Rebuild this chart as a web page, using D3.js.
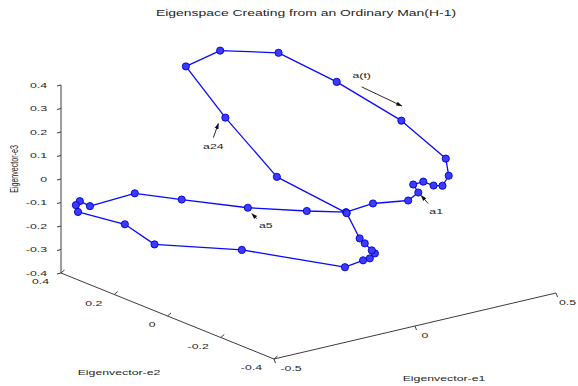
<!DOCTYPE html>
<html>
<head>
<meta charset="utf-8">
<script src="https://cdn.jsdelivr.net/npm/d3@7"></script>
<style>
  html, body { margin: 0; padding: 0; background: #fff; }
  svg { display: block; }
</style>
</head>
<body>
<svg id="chart" width="578" height="386"></svg>
<script>
// Trajectory of the gait sequence in the first three eigenvectors (a1 ... a36)
const e1 = [0.259, 0.153, 0.086, -0.006, -0.149, -0.308, -0.380, -0.454, -0.471, -0.485,
            -0.487, -0.368, -0.310, -0.142, 0.082, 0.118, 0.123, 0.141, 0.130, 0.105,
            0.087, 0.060, -0.065, -0.106, -0.076, 0.055, 0.243, 0.421, 0.471, 0.468,
            0.450, 0.409, 0.368, 0.322, 0.277, 0.295];
const e2 = [-0.10, -0.08, -0.05, 0.00, 0.07, 0.15, 0.25, 0.34, 0.36, 0.36,
            0.35, 0.30, 0.25, 0.10, -0.05, -0.08, -0.10, -0.10, -0.10, -0.10,
            -0.10, -0.08, 0.05, 0.20, 0.38, 0.39, 0.37, 0.34, 0.15, -0.02,
            -0.05, -0.07, -0.08, -0.09, -0.10, -0.10];
const e3 = [-0.076, -0.068, -0.100, -0.092, -0.070, -0.027, -0.026, -0.101, -0.084, -0.097,
            -0.121, -0.184, -0.263, -0.265, -0.333, -0.300, -0.284, -0.268, -0.252, -0.215,
            -0.189, -0.083, 0.047, 0.242, 0.369, 0.395, 0.342, 0.182, 0.090, 0.007,
            -0.047, -0.069, -0.052, -0.018, -0.013, -0.052];

const e1Ticks = [-0.5, 0, 0.5];
const e2Ticks = [0.4, 0.2, 0, -0.2, -0.4];
const e3Ticks = [0.4, 0.3, 0.2, 0.1, 0, -0.1, -0.2, -0.3, -0.4];
const e1TickLabels = ["-0.5", "0", "0.5"];
const e2TickLabels = ["0.4", "0.2", "0", "-0.2", "-0.4"];
const e3TickLabels = ["0.4", "0.3", "0.2", "0.1", "0", "-0.1", "-0.2", "-0.3", "-0.4"];

const titleText = "Eigenspace Creating from an Ordinary Man(H-1)";
const axisNames = ["Eigenvector-e1", "Eigenvector-e2", "Eigenvector-e3"];

// Callouts: which sample they name, and where the arrow and text sit relative to it
const callouts = [
  { text: "a1",   index: 0,  tip: [13, -5], tail: [20, 3],  label: [28, 11] },
  { text: "a5",   index: 4,  tip: [4, 6],   tail: [9, 11],  label: [18, 18] },
  { text: "a24",  index: 23, tip: [-7, 6],  tail: [-12, 20], label: [-12, 29] },
  { text: "a(t)", index: 27, tip: [65, 24], tail: [25, 5],  label: [25, -6] }
];

// ---- 3-D box projection (fixed oblique view) ----
const u = d3.scaleLinear().domain([-0.5, 0.5]).range([0, 1]);
const v = d3.scaleLinear().domain([0.4, -0.4]).range([0, 1]);
const w = d3.scaleLinear().domain([-0.4, 0.4]).range([0, 1]);
const O  = [61, 273];      // screen position of (e1=-0.5, e2=0.4, e3=-0.4)
const A1 = [282, -66];     // full e1 span on screen
const A2 = [213, 86];      // full e2 span on screen (0.4 -> -0.4)
const A3 = [0, -188];      // full e3 span on screen
function proj(a, b, c) {
  const U = u(a), V = v(b), W = w(c);
  return [O[0] + A1[0] * U + A2[0] * V + A3[0] * W,
          O[1] + A1[1] * U + A2[1] * V + A3[1] * W];
}

const W_PX = 578;
const svg = d3.select("#chart");
const FONT = "'Liberation Sans', Arial, Helvetica, sans-serif";
const SX = 1.62;           // horizontal glyph stretch of the figure text
const INK = "#1e1e1e";
const AXIS = "#3c3c3c";

function label(x, y, str, opts = {}) {
  const size = opts.size || 7.6;
  const g = svg.append("g")
    .attr("transform", `translate(${x},${y}) scale(${SX},1)` + (opts.rotate ? " rotate(-90)" : ""));
  g.append("text")
    .attr("text-anchor", opts.anchor || "middle")
    .attr("dominant-baseline", "central")
    .attr("font-family", FONT)
    .attr("font-size", size)
    .attr("fill", INK)
    .text(str);
  // keep the text inside the figure
  const b = g.node().getBoundingClientRect();
  if (b.right > W_PX - 1.5) {
    const nx = x - (b.right - (W_PX - 1.5));
    g.attr("transform", `translate(${nx},${y}) scale(${SX},1)` + (opts.rotate ? " rotate(-90)" : ""));
  }
  return g;
}

// Title
label(306, 13.5, titleText, { size: 8.6 });

// ---- axes ----
const axes = svg.append("g").attr("stroke", AXIS).attr("stroke-width", 1).attr("fill", "none");

// e3 (vertical) axis at e1=-0.5, e2=0.4
const z0 = proj(-0.5, 0.4, -0.4), z1 = proj(-0.5, 0.4, 0.4);
axes.append("line").attr("x1", z0[0]).attr("y1", z0[1]).attr("x2", z1[0]).attr("y2", z1[1]);
e3Ticks.forEach((t, i) => {
  const p = proj(-0.5, 0.4, t);
  axes.append("line").attr("x1", p[0] - 4).attr("y1", p[1] + 1).attr("x2", p[0]).attr("y2", p[1]);
  label(p[0] - 14, p[1], e3TickLabels[i], { anchor: "end" });
});

// e2 axis along e1=-0.5, e3=-0.4
const y0 = proj(-0.5, 0.4, -0.4), y1 = proj(-0.5, -0.4, -0.4);
axes.append("line").attr("x1", y0[0]).attr("y1", y0[1]).attr("x2", y1[0]).attr("y2", y1[1]);
e2Ticks.forEach((t, i) => {
  const p = proj(-0.5, t, -0.4);
  axes.append("line").attr("x1", p[0]).attr("y1", p[1]).attr("x2", p[0] + 3.5).attr("y2", p[1] - 3);
  label(p[0] - 12, p[1] + 8.5, e2TickLabels[i], { anchor: "end" });
});

// e1 axis along e2=-0.4, e3=-0.4
const x0 = proj(-0.5, -0.4, -0.4), x1 = proj(0.5, -0.4, -0.4);
axes.append("line").attr("x1", x0[0]).attr("y1", x0[1]).attr("x2", x1[0]).attr("y2", x1[1]);
e1Ticks.forEach((t, i) => {
  const p = proj(t, -0.4, -0.4);
  axes.append("line").attr("x1", p[0]).attr("y1", p[1]).attr("x2", p[0] + 1.5).attr("y2", p[1] + 4);
  label(p[0] + 6.5, p[1] + 9, e1TickLabels[i], { anchor: "start" });
});

// axis titles
label(444, 378, axisNames[0]);
label(119, 372, axisNames[1]);
label(14, 169, axisNames[2], { rotate: true, size: 7.1 });

// ---- trajectory ----
const pts = e1.map((d, i) => proj(e1[i], e2[i], e3[i]));
const line = d3.line();
svg.append("path")
  .attr("d", line(pts.concat([pts[0]])))
  .attr("fill", "none")
  .attr("stroke", "#0a0aff")
  .attr("stroke-width", 1.3)
  .attr("stroke-linejoin", "round");

svg.append("g").selectAll("circle").data(pts).join("circle")
  .attr("cx", d => d[0]).attr("cy", d => d[1]).attr("r", 3.6)
  .attr("fill", "#3b3bff").attr("stroke", "#0000c8").attr("stroke-width", 0.9);

// ---- callouts ----
const defs = svg.append("defs");
defs.append("marker").attr("id", "head")
  .attr("viewBox", "0 0 10 10").attr("refX", 9).attr("refY", 5)
  .attr("markerWidth", 6).attr("markerHeight", 6).attr("orient", "auto-start-reverse")
  .attr("markerUnits", "userSpaceOnUse")
  .append("path").attr("d", "M0,1.5 L10,5 L0,8.5 Z").attr("fill", "#111");

callouts.forEach(c => {
  const p = pts[c.index];
  svg.append("line")
    .attr("x1", p[0] + c.tail[0]).attr("y1", p[1] + c.tail[1])
    .attr("x2", p[0] + c.tip[0]).attr("y2", p[1] + c.tip[1])
    .attr("stroke", "#111").attr("stroke-width", 0.9)
    .attr("marker-end", "url(#head)");
  label(p[0] + c.label[0], p[1] + c.label[1], c.text);
});
</script>
</body>
</html>
